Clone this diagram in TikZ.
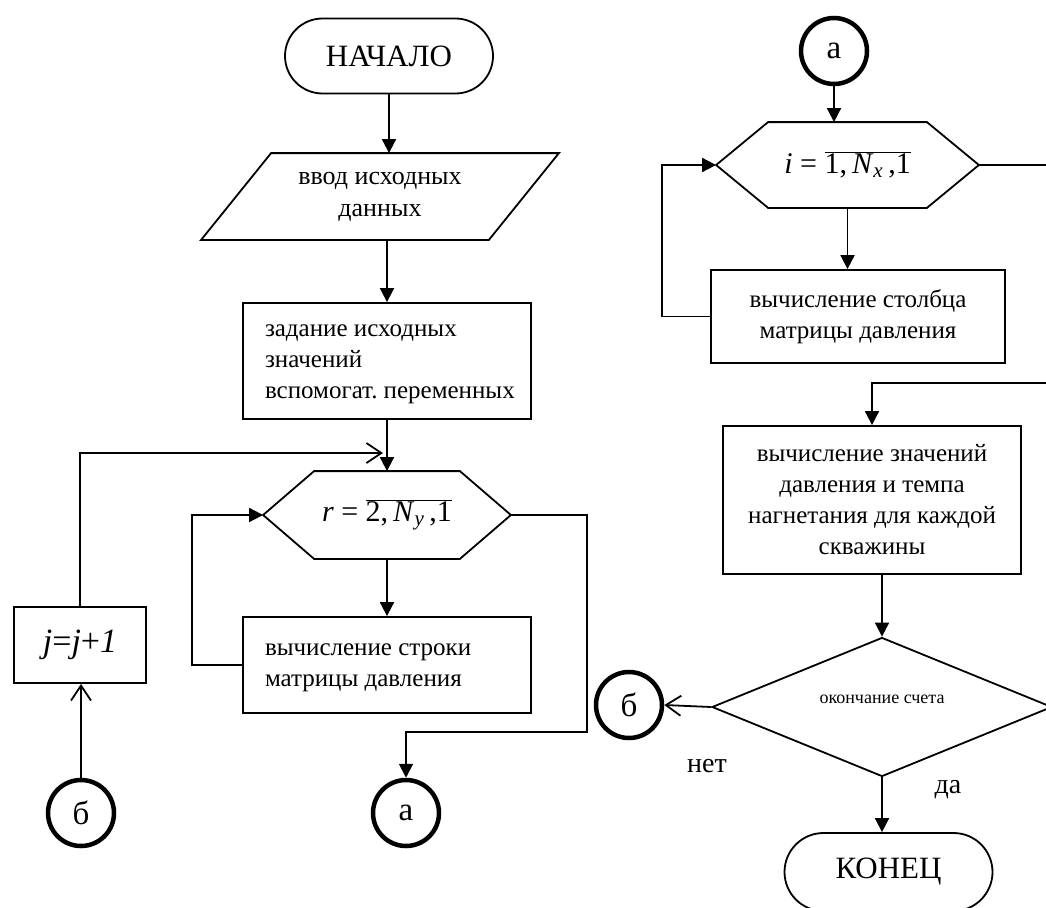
\documentclass[tikz,border=0pt]{standalone}
\usepackage{fontspec}
\setmainfont{Liberation Serif}
\usetikzlibrary{arrows.meta,shapes.misc,shapes.geometric,calc}
\begin{document}
\frenchspacing
\begin{tikzpicture}[x=1pt,y=-1pt, line width=1.8pt,
 box/.style={draw, rectangle, inner sep=0pt, font=\fontsize{25}{31}\selectfont},
 term/.style={draw, rounded rectangle, minimum width=208pt, minimum height=75pt, inner sep=0pt, font=\fontsize{31}{36}\selectfont},
 conn/.style={draw, circle, line width=4.5pt, minimum size=66pt, inner sep=0pt, font=\fontsize{33}{36}\selectfont},
 ghost/.style={rectangle, inner sep=0pt},
 arr/.style={-{Triangle[length=14pt,width=14pt]}},
 oarr/.style={-{Straight Barb[length=15pt,width=20pt]}},
 lbl/.style={font=\fontsize{28}{32}\selectfont}
]
\useasboundingbox (0,0) rectangle (1046,907);

% left column
\node[term] (start) at (389,56) {НАЧАЛО};
\node[ghost, minimum width=356pt, minimum height=85pt, align=center, font=\fontsize{26}{32}\selectfont] (inp) at (380,196.5) {ввод исходных\\данных};
\draw ($(inp.north west)+(70,0)$) -- (inp.north east) -- ($(inp.south east)+(-70,0)$) -- (inp.south west) -- cycle;
\node[box, minimum width=288pt, minimum height=116pt] (zad) at (387,361) {\makebox[244pt][l]{\begin{tabular}{@{}l@{}}задание исходных\\значений\\вспомогат. переменных\end{tabular}}};
\node[ghost, minimum width=246pt, minimum height=86pt, font=\fontsize{30}{34}\selectfont] (hexR) at (387,515) {\textit{r} = $\overline{\hbox{2,\,\textit{N}\textsubscript{\textit{y}}\,,1}}$};
\draw (hexR.west) -- ($(hexR.north west)+(51,0)$) -- ($(hexR.north east)+(-51,0)$) -- (hexR.east) -- ($(hexR.south east)+(-51,0)$) -- ($(hexR.south west)+(51,0)$) -- cycle;
\node[box, minimum width=288pt, minimum height=96pt] (str) at (387,665) {\makebox[244pt][l]{\begin{tabular}{@{}l@{}}вычисление строки\\матрицы давления\end{tabular}}};
\node[box, minimum width=132pt, minimum height=76pt, font=\fontsize{34}{36}\selectfont] (jbox) at (80,645) {\textit{j}=\textit{j}+\textit{1}};
\node[conn] (bL) at (81,813) {б};
\node[conn] (aBot) at (406,813) {а};

% right column
\node[conn] (aTop) at (834,51) {а};
\node[ghost, minimum width=261pt, minimum height=84pt, font=\fontsize{30}{34}\selectfont] (hexI) at (847.5,165) {\textit{i} = $\overline{\hbox{1,\,\textit{N}\textsubscript{\textit{x}}\,,1}}$};
\draw (hexI.west) -- ($(hexI.north west)+(52,0)$) -- ($(hexI.north east)+(-52,0)$) -- (hexI.east) -- ($(hexI.south east)+(-52,0)$) -- ($(hexI.south west)+(52,0)$) -- cycle;
\node[box, minimum width=294pt, minimum height=93pt, align=center] (stl) at (858,316.5) {вычисление столбца\\матрицы давления};
\node[box, minimum width=298pt, minimum height=148pt, align=center] (zn) at (872,500) {вычисление значений\\давления и темпа\\нагнетания для каждой\\скважины};
\node[draw, diamond, aspect=2.45, minimum width=340pt, minimum height=139pt, inner sep=0pt, font=\fontsize{18}{22}\selectfont] (dia) at (882,707) {\raisebox{16pt}{окончание счета}};
\node[conn] (bR) at (629,705) {б};
\node[term, minimum height=78pt] (end) at (888.5,872) {КОНЕЦ};
\node[lbl] (net) at (707,766) {нет};
\node[lbl] (da) at (948,790) {да};

% connectors
\draw[arr] (start.south) -- (start.south |- inp.north);
\draw[arr] (zad.north |- inp.south) -- (zad.north);
\draw[arr] (zad.south) -- (hexR.north);
\coordinate (jm) at (383,453);
\draw[oarr] (jbox.north) |- (jm);
\draw[oarr] (bL.north) -- (bL.north |- jbox.south);
\draw[arr] (hexR.south) -- (str.north);
\draw[arr] (str.west) -- ++(-50,0) |- (hexR.west);
\coordinate (rx) at (587,732);
\draw[arr] (hexR.east) -| (rx) -| (aBot.north);

\draw[arr] (aTop.south) -- (aTop.south |- hexI.north);
\draw[arr] (hexI.south) -- (hexI.south |- stl.north);
\draw[arr] (stl.west) -- ++(-48,0) |- (hexI.west);
\coordinate (ix) at (1052,383);
\draw[arr] (hexI.east) -| (ix) -| (zn.north);
\draw[arr] (dia.north |- zn.south) -- (dia.north);
\draw[oarr] (dia.west) -- (bR.east);
\draw[arr] (dia.south) -- (dia.south |- end.north);
\end{tikzpicture}
\end{document}
